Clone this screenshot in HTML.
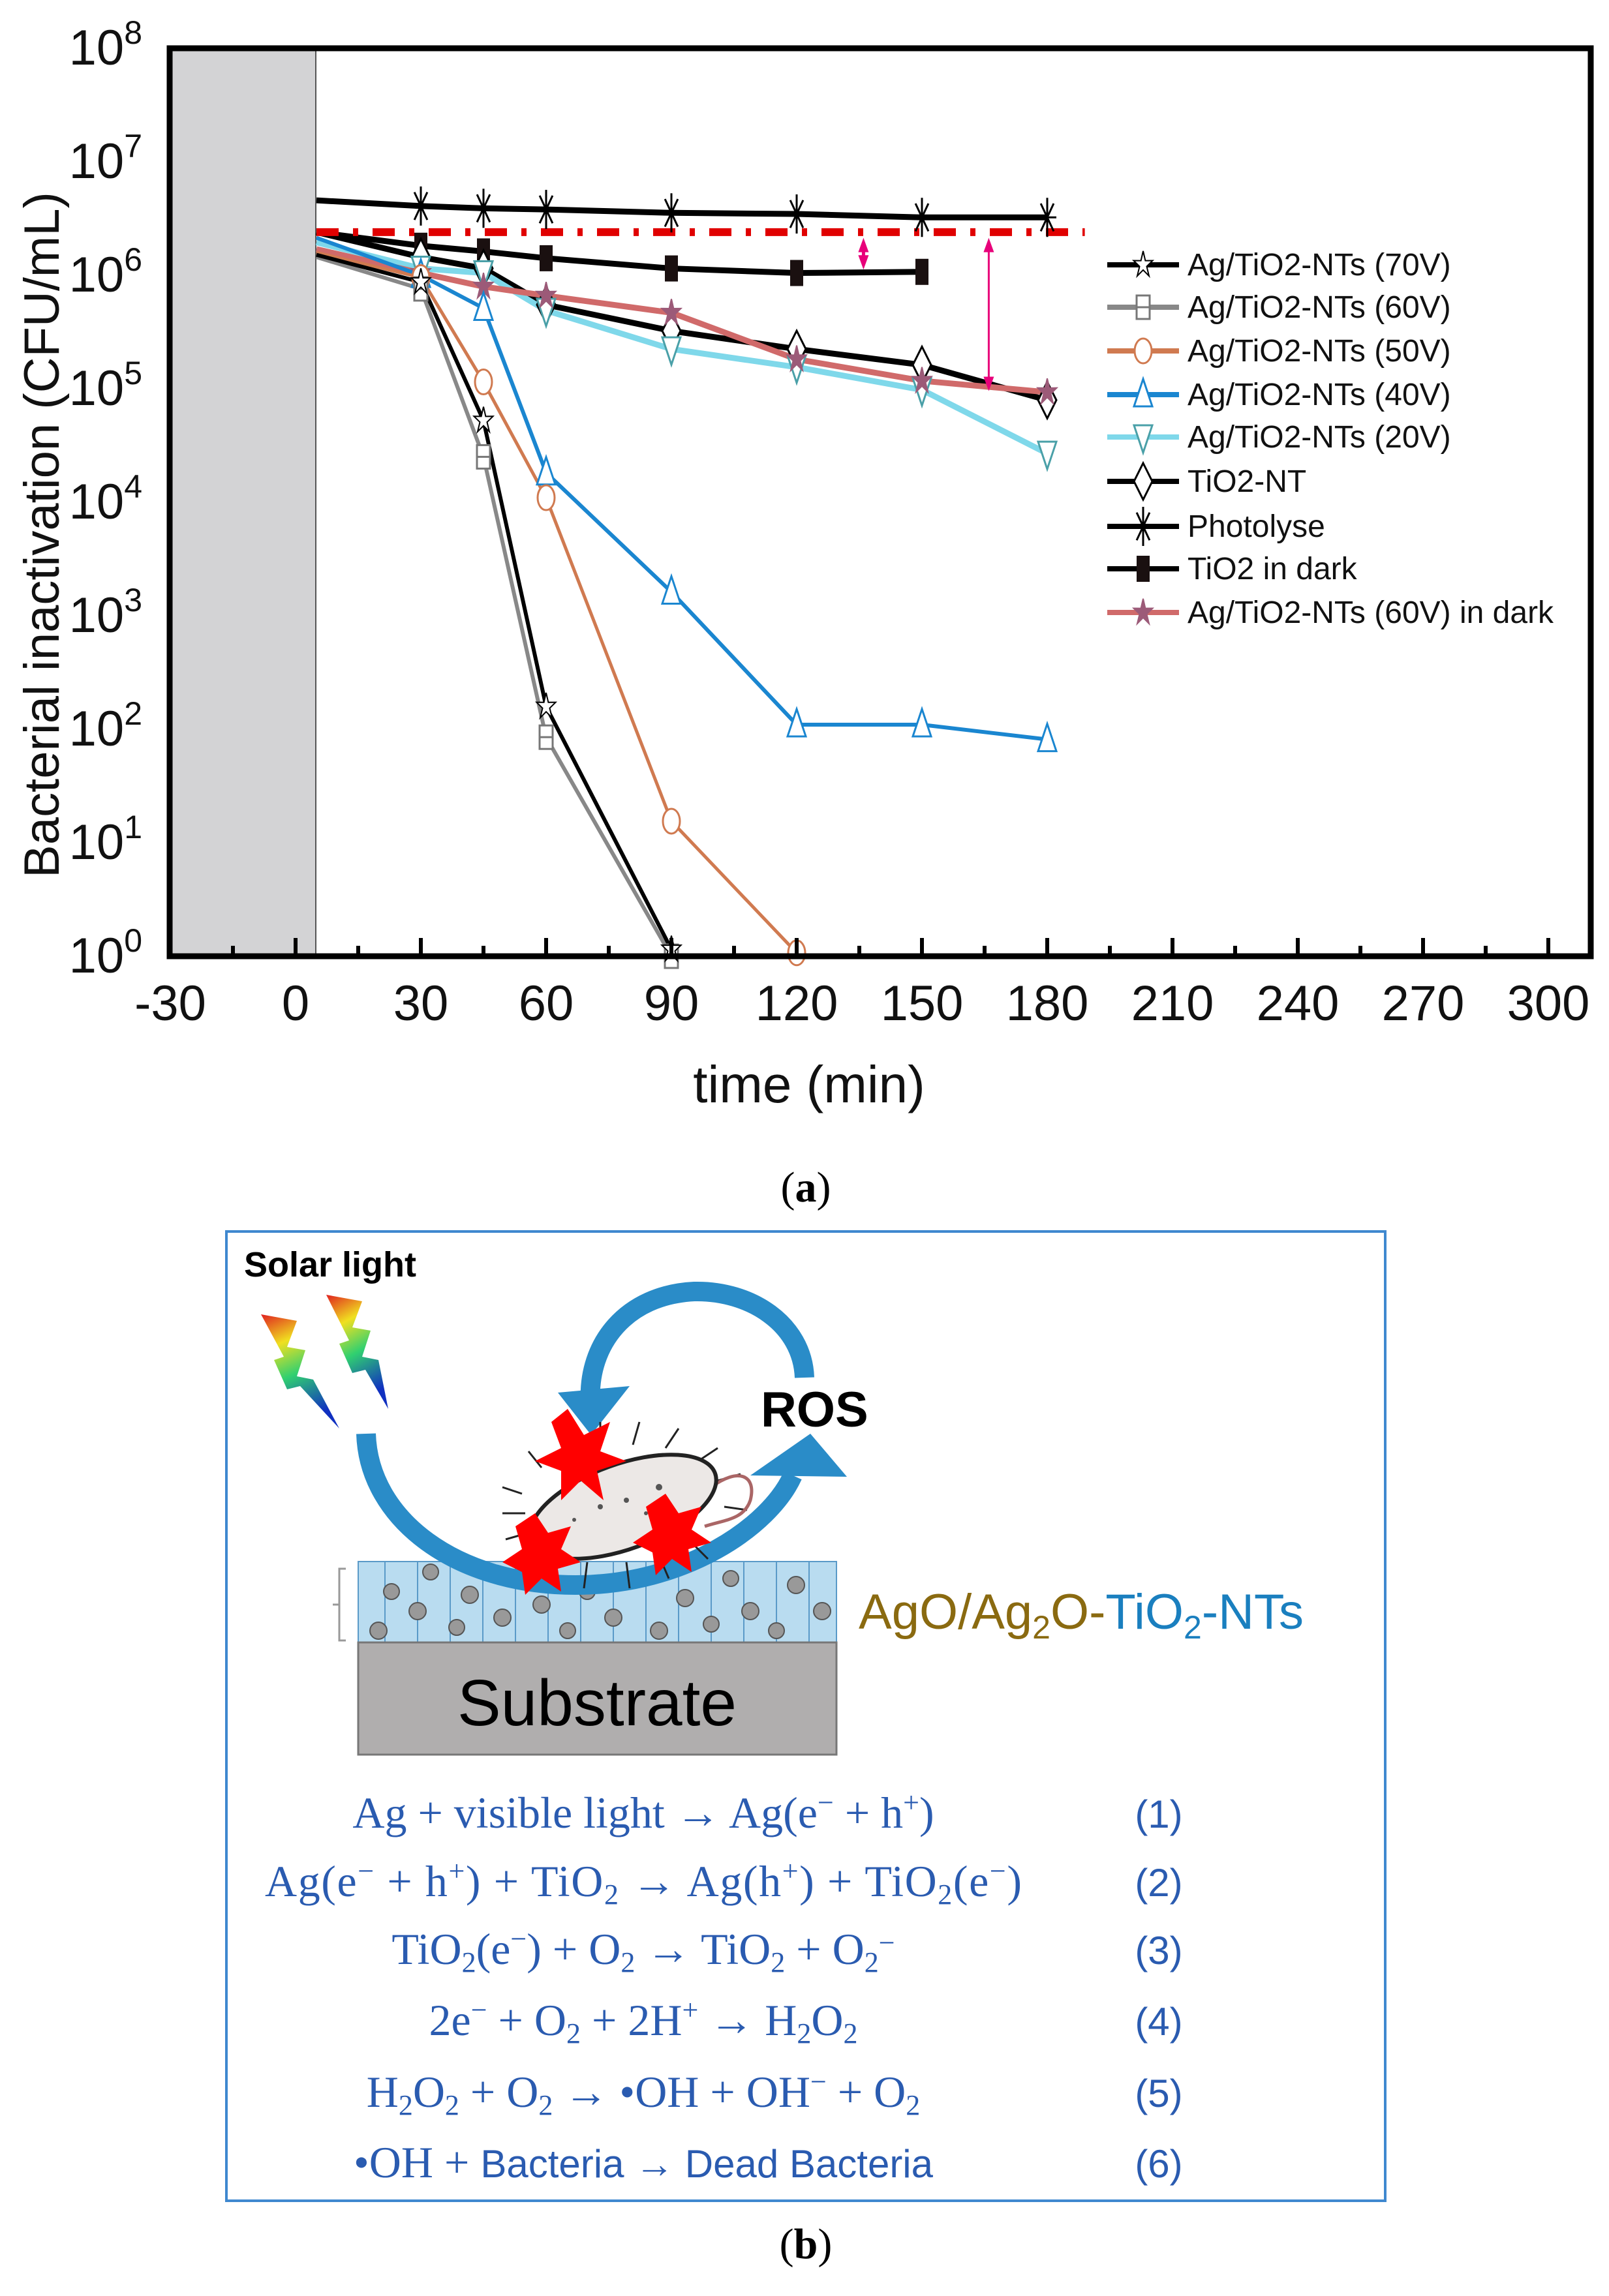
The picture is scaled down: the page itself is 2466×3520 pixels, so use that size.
<!DOCTYPE html>
<html><head><meta charset="utf-8"><style>
html,body{margin:0;padding:0;background:#fff;}
svg{display:block;}
</style></head><body>
<svg id="s" width="2466" height="3520" viewBox="0 0 2466 3520" xmlns="http://www.w3.org/2000/svg">
<rect x="0" y="0" width="2466" height="3520" fill="#fff"/>
<!-- panel a -->
<rect x="260" y="74" width="224" height="1392" fill="#d3d3d5"/>
<line x1="484" y1="74" x2="484" y2="1466" stroke="#555" stroke-width="2"/>
<g id="data"></g>
<g id="ticks"></g>
<rect x="260" y="74" width="2178" height="1392" fill="none" stroke="#000" stroke-width="9"/>
<g font-family="Liberation Sans, sans-serif" font-size="76" fill="#111">
<text x="218" y="99" text-anchor="end">10<tspan dy="-32" font-size="50">8</tspan></text>
<text x="218" y="273" text-anchor="end">10<tspan dy="-32" font-size="50">7</tspan></text>
<text x="218" y="447" text-anchor="end">10<tspan dy="-32" font-size="50">6</tspan></text>
<text x="218" y="621" text-anchor="end">10<tspan dy="-32" font-size="50">5</tspan></text>
<text x="218" y="795" text-anchor="end">10<tspan dy="-32" font-size="50">4</tspan></text>
<text x="218" y="969" text-anchor="end">10<tspan dy="-32" font-size="50">3</tspan></text>
<text x="218" y="1143" text-anchor="end">10<tspan dy="-32" font-size="50">2</tspan></text>
<text x="218" y="1317" text-anchor="end">10<tspan dy="-32" font-size="50">1</tspan></text>
<text x="218" y="1491" text-anchor="end">10<tspan dy="-32" font-size="50">0</tspan></text>
</g>
<g font-family="Liberation Sans, sans-serif" font-size="76" fill="#111" text-anchor="middle">
<text x="261" y="1564">-30</text><text x="453" y="1564">0</text><text x="645" y="1564">30</text>
<text x="837" y="1564">60</text><text x="1029" y="1564">90</text><text x="1221" y="1564">120</text>
<text x="1413" y="1564">150</text><text x="1605" y="1564">180</text><text x="1797" y="1564">210</text>
<text x="1989" y="1564">240</text><text x="2181" y="1564">270</text><text x="2373" y="1564">300</text>
<text x="1240" y="1690" font-size="80">time (min)</text>
<text transform="translate(90,820) rotate(-90)" font-size="76">Bacterial inactivation (CFU/mL)</text>
</g>
<g id="legend" font-family="Liberation Sans, sans-serif" font-size="48" fill="#111">
<text x="1820" y="422">Ag/TiO2-NTs (70V)</text>
<text x="1820" y="487">Ag/TiO2-NTs (60V)</text>
<text x="1820" y="554">Ag/TiO2-NTs (50V)</text>
<text x="1820" y="621">Ag/TiO2-NTs (40V)</text>
<text x="1820" y="686">Ag/TiO2-NTs (20V)</text>
<text x="1820" y="754">TiO2-NT</text>
<text x="1820" y="823">Photolyse</text>
<text x="1820" y="888">TiO2 in dark</text>
<text x="1820" y="955">Ag/TiO2-NTs (60V) in dark</text>
</g>
<text x="1235" y="1842" font-family="Liberation Serif, serif" font-size="66" text-anchor="middle">(<tspan font-weight="bold">a</tspan>)</text>

<!-- panel b -->
<rect x="347" y="1888" width="1776" height="1486" fill="#fff" stroke="#3f88cf" stroke-width="4"/>
<text x="374" y="1957" font-family="Liberation Sans, sans-serif" font-weight="bold" font-size="54">Solar light</text>
<defs><linearGradient id="bolt" x1="0" y1="0" x2="0.3" y2="1">
<stop offset="0" stop-color="#e02020"/><stop offset="0.3" stop-color="#f0e020"/><stop offset="0.6" stop-color="#30d070"/><stop offset="1" stop-color="#1030c0"/></linearGradient></defs>
<polygon points="400,2015 455,2025 440,2065 468,2070 455,2110 480,2115 520,2190 460,2125 440,2130 420,2085 435,2080" fill="url(#bolt)"/>
<polygon points="500,1985 555,1995 540,2035 568,2040 555,2080 580,2085 595,2160 560,2100 540,2105 520,2060 535,2055" fill="url(#bolt)"/>
<rect x="549" y="2394" width="733" height="124" fill="#b9dcf0" stroke="#5a9ac8" stroke-width="2"/>
<g stroke="#5a9ac8" stroke-width="2">
<line x1="590" y1="2394" x2="590" y2="2518"/><line x1="640" y1="2394" x2="640" y2="2518"/><line x1="690" y1="2394" x2="690" y2="2518"/><line x1="740" y1="2394" x2="740" y2="2518"/><line x1="790" y1="2394" x2="790" y2="2518"/><line x1="840" y1="2394" x2="840" y2="2518"/><line x1="890" y1="2394" x2="890" y2="2518"/><line x1="940" y1="2394" x2="940" y2="2518"/><line x1="990" y1="2394" x2="990" y2="2518"/><line x1="1040" y1="2394" x2="1040" y2="2518"/><line x1="1090" y1="2394" x2="1090" y2="2518"/><line x1="1140" y1="2394" x2="1140" y2="2518"/><line x1="1190" y1="2394" x2="1190" y2="2518"/><line x1="1240" y1="2394" x2="1240" y2="2518"/></g>
<g fill="#999" stroke="#555" stroke-width="2">
<circle cx="580" cy="2500" r="13"/><circle cx="600" cy="2440" r="12"/><circle cx="640" cy="2470" r="13"/><circle cx="660" cy="2410" r="12"/><circle cx="700" cy="2495" r="12"/><circle cx="720" cy="2445" r="13"/><circle cx="770" cy="2480" r="13"/><circle cx="790" cy="2420" r="12"/><circle cx="830" cy="2460" r="13"/><circle cx="870" cy="2500" r="12"/><circle cx="900" cy="2440" r="12"/><circle cx="940" cy="2480" r="13"/><circle cx="980" cy="2420" r="12"/><circle cx="1010" cy="2500" r="13"/><circle cx="1050" cy="2450" r="13"/><circle cx="1090" cy="2490" r="12"/><circle cx="1120" cy="2420" r="12"/><circle cx="1150" cy="2470" r="13"/><circle cx="1190" cy="2500" r="12"/><circle cx="1220" cy="2430" r="13"/><circle cx="1260" cy="2470" r="13"/></g>
<path d="M 530 2405 L 520 2405 L 520 2515 L 530 2515 M 520 2460 L 510 2460" fill="none" stroke="#999" stroke-width="3"/>
<rect x="549" y="2518" width="733" height="172" fill="#b0aeae" stroke="#777" stroke-width="3"/>
<text x="915" y="2645" font-family="Liberation Sans, sans-serif" font-size="100" text-anchor="middle">Substrate</text>
<!-- arcs -->
<path d="M 561 2198 C 565 2330 700 2430 882 2430 C 1050 2430 1180 2340 1215 2262" fill="none" stroke="#2a8cc8" stroke-width="30"/>
<polygon points="1242,2198 1150,2262 1298,2264" fill="#2a8cc8"/>
<path d="M 1233 2112 C 1230 2030 1150 1978 1064 1980 C 960 1985 900 2060 905 2150" fill="none" stroke="#2a8cc8" stroke-width="30"/>
<polygon points="906,2200 855,2135 965,2125" fill="#2a8cc8"/>
<text x="1166" y="2187" font-family="Liberation Sans, sans-serif" font-weight="bold" font-size="76">ROS</text>
<g stroke="#222" stroke-width="3" fill="none">
<path d="M800 2290 l-30 -10 M805 2320 l-35 0 M810 2350 l-35 10 M830 2250 l-20 -25 M870 2230 l-10 -30 M920 2215 l0 -35 M970 2215 l10 -35 M1020 2220 l20 -30 M1070 2240 l30 -20 M1100 2270 l35 -10 M1110 2310 l35 5 M850 2380 l-20 30 M900 2395 l-5 40 M960 2395 l5 40 M1010 2385 l15 35 M1060 2365 l25 25"/>
<path d="M1090 2280 C1130 2250 1160 2260 1150 2300 C1140 2330 1110 2330 1080 2340" stroke="#a66" stroke-width="5"/>
</g>
<ellipse cx="955" cy="2310" rx="150" ry="65" transform="rotate(-20 955 2310)" fill="#ece8e6" stroke="#222" stroke-width="6"/>
<g fill="#555"><circle cx="920" cy="2310" r="4"/><circle cx="960" cy="2300" r="4"/><circle cx="990" cy="2320" r="3"/><circle cx="880" cy="2330" r="3"/><circle cx="1010" cy="2280" r="5"/></g>
<g fill="#f00"><polygon points="870,2160 895,2200 935,2180 920,2225 960,2240 915,2255 925,2300 890,2270 860,2300 860,2255 820,2240 860,2220 845,2180"/>
<polygon points="1020,2290 1040,2320 1075,2310 1060,2345 1090,2365 1055,2375 1060,2410 1030,2390 1005,2415 1000,2380 970,2365 1000,2345 990,2310"/>
<polygon points="820,2320 840,2350 875,2340 860,2375 890,2395 855,2405 860,2440 830,2420 805,2445 800,2410 770,2395 800,2375 790,2340"/></g>
<text x="1316" y="2497" font-family="Liberation Sans, sans-serif" font-size="76"><tspan fill="#8a6a10">AgO/Ag<tspan font-size="50" dy="15">2</tspan><tspan dy="-15">O-</tspan></tspan><tspan fill="#1a7fbf">TiO<tspan font-size="50" dy="15">2</tspan><tspan dy="-15">-NTs</tspan></tspan></text>
<g font-family="Liberation Serif, serif" font-size="68" fill="#2a5bb0" text-anchor="middle">
<text x="986" y="2802">Ag + visible light → Ag(e<tspan dy="-24" font-size="44">−</tspan><tspan dy="24"> + h</tspan><tspan dy="-24" font-size="44">+</tspan><tspan dy="24">)</tspan></text>
<text x="986" y="2907" textLength="1160">Ag(e<tspan dy="-24" font-size="44">−</tspan><tspan dy="24"> + h</tspan><tspan dy="-24" font-size="44">+</tspan><tspan dy="24">) + TiO</tspan><tspan dy="12" font-size="44">2</tspan><tspan dy="-12"> → Ag(h</tspan><tspan dy="-24" font-size="44">+</tspan><tspan dy="24">) + TiO</tspan><tspan dy="12" font-size="44">2</tspan><tspan dy="-12">(e</tspan><tspan dy="-24" font-size="44">−</tspan><tspan dy="24">)</tspan></text>
<text x="986" y="3011">TiO<tspan dy="12" font-size="44">2</tspan><tspan dy="-12">(e</tspan><tspan dy="-24" font-size="44">−</tspan><tspan dy="24">) + O</tspan><tspan dy="12" font-size="44">2</tspan><tspan dy="-12"> → TiO</tspan><tspan dy="12" font-size="44">2</tspan><tspan dy="-12"> + O</tspan><tspan dy="12" font-size="44">2</tspan><tspan dy="-30" font-size="44">−</tspan></text>
<text x="986" y="3120">2e<tspan dy="-24" font-size="44">−</tspan><tspan dy="24"> + O</tspan><tspan dy="12" font-size="44">2</tspan><tspan dy="-12"> + 2H</tspan><tspan dy="-24" font-size="44">+</tspan><tspan dy="24"> → H</tspan><tspan dy="12" font-size="44">2</tspan><tspan dy="-12">O</tspan><tspan dy="12" font-size="44">2</tspan></text>
<text x="986" y="3230">H<tspan dy="12" font-size="44">2</tspan><tspan dy="-12">O</tspan><tspan dy="12" font-size="44">2</tspan><tspan dy="-12"> + O</tspan><tspan dy="12" font-size="44">2</tspan><tspan dy="-12"> → •OH + OH</tspan><tspan dy="-24" font-size="44">−</tspan><tspan dy="24"> + O</tspan><tspan dy="12" font-size="44">2</tspan></text>
<text x="986" y="3338">•OH + <tspan font-family="Liberation Sans, sans-serif" font-size="60">Bacteria  →  Dead Bacteria</tspan></text>
</g>
<g font-family="Liberation Sans, sans-serif" font-size="60" fill="#2a5bb0" text-anchor="middle">
<text x="1776" y="2802">(1)</text><text x="1776" y="2907">(2)</text><text x="1776" y="3011">(3)</text>
<text x="1776" y="3120">(4)</text><text x="1776" y="3230">(5)</text><text x="1776" y="3338">(6)</text>
</g>
<text x="1235" y="3462" font-family="Liberation Serif, serif" font-size="66" text-anchor="middle">(<tspan font-weight="bold">b</tspan>)</text>
</svg>
<script>
(function(){
var NS="http://www.w3.org/2000/svg";
function X(t){return 453+6.4*t;} function Y(l){return 1466-174*l;}
function el(tag,a,p){var e=document.createElementNS(NS,tag);for(var k in a)e.setAttribute(k,a[k]);(p||G).appendChild(e);return e;}
var G=document.getElementById('data');
var T=document.getElementById('ticks');
for(var t=-15;t<=300;t+=15){var maj=(t%30==0);el('line',{x1:X(t),x2:X(t),y1:1466,y2:1466-(maj?28:16),stroke:'#000','stroke-width':6},T);}
function marker(m,x,y,c,g){g=g||G;var r=16;
 if(m=='star'||m=='fstar'){var p=[];for(var i=0;i<10;i++){var rr=i%2?r*0.45:r*1.2,a=-Math.PI/2+i*Math.PI/5;p.push((x+rr*Math.cos(a)*0.8)+','+(y+rr*Math.sin(a)*1.1));}
  el('polygon',{points:p.join(' '),fill:m=='fstar'?'#9c5a78':'#fff',stroke:m=='fstar'?'#9c5a78':'#000','stroke-width':2},g);}
 else if(m=='sq'){el('rect',{x:x-10,y:y-18,width:20,height:36,fill:'#fff',stroke:'#777','stroke-width':3},g);el('line',{x1:x-10,x2:x+10,y1:y,y2:y,stroke:'#777','stroke-width':3},g);}
 else if(m=='circ'){el('ellipse',{cx:x,cy:y,rx:13,ry:19,fill:'#fff',stroke:c,'stroke-width':3},g);}
 else if(m=='tri'){el('polygon',{points:(x)+','+(y-24)+' '+(x-14)+','+(y+18)+' '+(x+14)+','+(y+18),fill:'#fff',stroke:c,'stroke-width':3},g);}
 else if(m=='dtri'){el('polygon',{points:(x)+','+(y+24)+' '+(x-14)+','+(y-18)+' '+(x+14)+','+(y-18),fill:'#fff',stroke:'#4aa0a8','stroke-width':3},g);}
 else if(m=='dia'){el('polygon',{points:x+','+(y-28)+' '+(x+14)+','+y+' '+x+','+(y+28)+' '+(x-14)+','+y,fill:'#fff',stroke:'#000','stroke-width':3},g);}
 else if(m=='ast'){for(var i=0;i<4;i++){var a=i*Math.PI/4;el('line',{x1:x-14*Math.sin(a),y1:y-30*Math.cos(a),x2:x+14*Math.sin(a),y2:y+30*Math.cos(a),stroke:'#000','stroke-width':3},g);}}
 else if(m=='fsq'){el('rect',{x:x-10,y:y-20,width:20,height:40,fill:'#1a1010'},g);}
}
var S=[
 {c:'#000',w:9,m:'ast',d:[[5,6.66],[30,6.61],[45,6.59],[60,6.58],[90,6.55],[120,6.54],[150,6.51],[180,6.51]]},
 {c:'#000',w:9,m:'fsq',d:[[5,6.38],[30,6.26],[45,6.21],[60,6.15],[90,6.06],[120,6.02],[150,6.03]]},
 {c:'#000',w:9,m:'dia',d:[[5,6.38],[30,6.16],[45,6.06],[60,5.74],[90,5.51],[120,5.35],[150,5.21],[180,4.9]]},
 {c:'#7fd8ea',w:9,m:'dtri',d:[[5,6.29],[30,6.06],[45,6.02],[60,5.69],[90,5.35],[120,5.19],[150,4.99],[180,4.43]]},
 {c:'#d06a6a',w:9,m:'fstar',d:[[5,6.23],[30,6.02],[45,5.9],[60,5.82],[90,5.67],[120,5.26],[150,5.07],[180,4.97]]},
 {c:'#1a86d0',w:6,m:'tri',d:[[5,6.33],[30,6.0],[45,5.71],[60,4.26],[90,3.21],[120,2.04],[150,2.04],[180,1.91]]},
 {c:'#d07a50',w:5,m:'circ',d:[[5,6.2],[30,5.98],[45,5.06],[60,4.04],[90,1.19],[120,0.03]]},
 {c:'#888',w:6,m:'sq',d:[[5,6.16],[30,5.88],[45,4.4],[60,1.93],[90,0.0]]},
 {c:'#000',w:6,m:'star',d:[[5,6.18],[30,5.94],[45,4.72],[60,2.2],[90,0.06]]}
];
S.forEach(function(s){var p=s.d.map(function(q){return X(q[0])+','+Y(q[1]);}).join(' ');
 el('polyline',{points:p,fill:'none',stroke:s.c,'stroke-width':s.w});});
el('line',{x1:X(5),x2:X(189),y1:Y(6.38),y2:Y(6.38),stroke:'#e00000','stroke-width':12,'stroke-dasharray':'34 22 8 22'});
S.forEach(function(s){s.d.forEach(function(q,i){if(i>0)marker(s.m,X(q[0]),Y(q[1]),s.c);});});
function arrow(x,y1,y2,w){el('line',{x1:x,x2:x,y1:y1+14,y2:y2-14,stroke:'#e8007a','stroke-width':w});
 el('polygon',{points:x+','+y1+' '+(x-8)+','+(y1+22)+' '+(x+8)+','+(y1+22),fill:'#e8007a'});
 el('polygon',{points:x+','+y2+' '+(x-8)+','+(y2-22)+' '+(x+8)+','+(y2-22),fill:'#e8007a'});}
arrow(X(136),Y(6.33),Y(6.05),5); arrow(X(166),Y(6.33),Y(4.98),3);
var L=document.getElementById('legend');
var LS=[['#000','star'],['#888','sq'],['#d07a50','circ'],['#1a86d0','tri'],['#7fd8ea','dtri'],['#000','dia'],['#000','ast'],['#000','fsq'],['#d06a6a','fstar']];
var ly=[406,471,538,605,670,738,807,872,939];
LS.forEach(function(s,i){el('line',{x1:1697,x2:1807,y1:ly[i],y2:ly[i],stroke:s[0],'stroke-width':8},L);marker(s[1],1752,ly[i],s[0],L);});
})();
</script>
</body></html>
